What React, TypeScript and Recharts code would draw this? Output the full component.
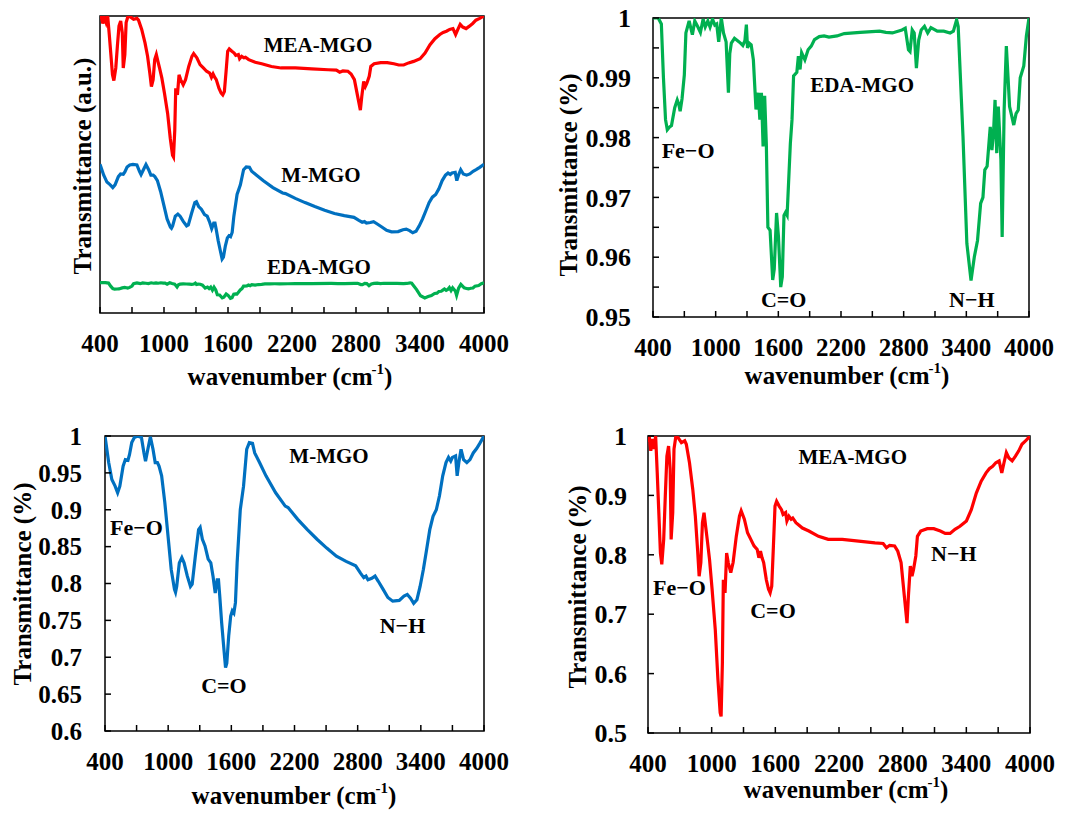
import { LineChart, Line, XAxis, YAxis, ReferenceArea, ReferenceDot } from "recharts";

const FONT = "'Times New Roman', 'Liberation Serif', serif";
const RED = "#FF0000";
const BLUE = "#0070C0";
const GREEN = "#00B050";

// [wavenumber (cm-1), transmittance]
const edaMgo: [number, number][] = [
  [400, 1.0], [450, 1.0], [480, 0.999], [500, 0.99], [520, 0.983], [537, 0.9813], [560, 0.9818], [577, 0.982],
  [608, 0.985], [632, 0.9863], [648, 0.9855], [660, 0.9844], [678, 0.9865], [700, 0.9905], [715, 0.9975],
  [746, 0.9995], [777, 0.9972], [800, 0.9995], [830, 0.9985], [854, 0.9976], [880, 0.9998], [900, 0.9985],
  [925, 0.9995], [946, 0.9985], [970, 0.9998], [992, 0.9988], [1010, 0.999], [1029, 0.996], [1045, 0.9985],
  [1054, 1.0], [1075, 0.9975], [1100, 0.996], [1122, 0.9875], [1135, 0.994], [1150, 0.9958], [1180, 0.9966],
  [1210, 0.9962], [1238, 0.9958], [1260, 0.9954], [1280, 0.9962], [1294, 0.9989], [1305, 0.995], [1320, 0.9958],
  [1340, 0.9955], [1361, 0.993], [1386, 0.9847], [1408, 0.9875], [1423, 0.983], [1438, 0.9875], [1454, 0.9785],
  [1469, 0.987], [1485, 0.979], [1500, 0.965], [1521, 0.9645], [1546, 0.9562], [1561, 0.958], [1583, 0.9674],
  [1601, 0.9635], [1623, 0.955], [1638, 0.9567], [1654, 0.967], [1669, 0.9675], [1684, 0.967], [1715, 0.979],
  [1731, 0.983], [1746, 0.9903], [1777, 0.9909], [1792, 0.9936], [1808, 0.9914], [1823, 0.9942], [1854, 0.993],
  [1885, 0.9947], [1915, 0.9953], [1946, 0.9964], [1992, 0.9969], [2038, 0.997], [2085, 0.9968], [2162, 0.997],
  [2231, 0.9974], [2384, 0.9976], [2569, 0.9978], [2630, 0.9976], [2692, 0.9975], [2784, 0.998], [2815, 0.9983],
  [2846, 0.9947], [2861, 0.9944], [2882, 0.998], [2901, 0.9975], [2922, 0.9916], [2944, 0.9963], [2968, 0.998],
  [2999, 0.9986], [3030, 0.9975], [3061, 0.9984], [3122, 0.9978], [3184, 0.9978], [3245, 0.9975], [3276, 0.9978],
  [3307, 0.9997], [3322, 0.9986], [3368, 0.9802], [3405, 0.9623], [3445, 0.9561], [3476, 0.96], [3507, 0.9628],
  [3537, 0.969], [3559, 0.97], [3577, 0.9746], [3599, 0.9752], [3614, 0.9785], [3629, 0.9818], [3645, 0.9779],
  [3660, 0.9807], [3675, 0.9863], [3691, 0.9774], [3706, 0.9852], [3731, 0.9763], [3743, 0.9634], [3762, 0.9846],
  [3783, 0.9953], [3799, 0.9902], [3814, 0.9852], [3836, 0.9835], [3854, 0.9821], [3876, 0.984], [3897, 0.9846],
  [3916, 0.99], [3950, 0.992], [3975, 0.997], [4000, 1.0],
];

const mMgo: [number, number][] = [
  [400, 1.0], [435, 0.964], [465, 0.941], [496, 0.932], [520, 0.923], [541, 0.932], [572, 0.959], [593, 0.968],
  [618, 0.967], [633, 0.975], [654, 0.991], [679, 0.998], [709, 1.0], [746, 0.998], [770, 0.977], [785, 0.966],
  [807, 0.982], [831, 0.999], [856, 0.982], [877, 0.964], [898, 0.964], [914, 0.959], [938, 0.946], [968, 0.91],
  [999, 0.864], [1029, 0.819], [1060, 0.792], [1070, 0.788], [1081, 0.796], [1106, 0.828], [1130, 0.835],
  [1151, 0.828], [1182, 0.81], [1212, 0.796], [1228, 0.799], [1258, 0.837], [1289, 0.873], [1304, 0.876],
  [1325, 0.86], [1350, 0.851], [1380, 0.833], [1405, 0.828], [1426, 0.81], [1447, 0.787], [1466, 0.805],
  [1478, 0.805], [1490, 0.783], [1508, 0.747], [1527, 0.715], [1545, 0.686], [1557, 0.692], [1575, 0.729],
  [1594, 0.756], [1609, 0.763], [1624, 0.76], [1639, 0.774], [1655, 0.828], [1685, 0.9], [1716, 0.932],
  [1746, 0.982], [1771, 0.991], [1801, 0.99], [1822, 0.977], [1868, 0.964], [1929, 0.946], [2021, 0.923],
  [2112, 0.905], [2139, 0.903], [2231, 0.887], [2322, 0.873], [2414, 0.86], [2506, 0.848], [2598, 0.837],
  [2690, 0.83], [2781, 0.824], [2827, 0.814], [2858, 0.808], [2879, 0.81], [2898, 0.805], [2934, 0.807],
  [2965, 0.81], [2996, 0.803], [3042, 0.792], [3087, 0.781], [3133, 0.776], [3195, 0.777], [3240, 0.783],
  [3271, 0.785], [3302, 0.78], [3332, 0.773], [3363, 0.778], [3393, 0.796], [3424, 0.819], [3455, 0.846],
  [3485, 0.873], [3516, 0.891], [3547, 0.9], [3577, 0.919], [3608, 0.946], [3639, 0.964], [3663, 0.971],
  [3684, 0.966], [3700, 0.971], [3730, 0.973], [3745, 0.946], [3761, 0.964], [3782, 0.982], [3806, 0.968],
  [3837, 0.964], [3867, 0.968], [3898, 0.977], [3930, 0.983], [3960, 0.99], [4000, 1.0],
];

const meaMgo: [number, number][] = [
  [400, 0.99], [411, 1.0], [426, 0.975], [441, 0.995], [457, 0.978], [472, 1.0], [487, 0.938], [502, 0.871],
  [517, 0.803], [530, 0.784], [548, 0.826], [563, 0.899], [578, 0.966], [594, 0.983], [609, 0.944], [618, 0.826],
  [633, 0.871], [645, 0.978], [663, 1.0], [685, 0.997], [715, 0.989], [746, 0.992], [761, 0.986], [791, 0.955],
  [822, 0.91], [846, 0.865], [867, 0.809], [882, 0.764], [898, 0.787], [913, 0.854], [928, 0.871], [943, 0.848],
  [958, 0.826], [980, 0.792], [1004, 0.742], [1034, 0.674], [1059, 0.59], [1080, 0.534], [1089, 0.528],
  [1101, 0.618], [1110, 0.758], [1126, 0.736], [1141, 0.803], [1156, 0.787], [1180, 0.77], [1202, 0.787],
  [1232, 0.831], [1262, 0.865], [1278, 0.874], [1308, 0.86], [1338, 0.837], [1369, 0.826], [1399, 0.815],
  [1429, 0.809], [1445, 0.795], [1460, 0.806], [1475, 0.795], [1490, 0.787], [1515, 0.758], [1536, 0.742],
  [1551, 0.736], [1566, 0.747], [1582, 0.815], [1597, 0.882], [1612, 0.89], [1636, 0.882], [1658, 0.876],
  [1673, 0.868], [1697, 0.871], [1709, 0.857], [1728, 0.865], [1749, 0.86], [1764, 0.862], [1794, 0.854],
  [1855, 0.845], [1916, 0.84], [2007, 0.831], [2098, 0.826], [2231, 0.826], [2385, 0.823], [2539, 0.82],
  [2616, 0.819], [2647, 0.812], [2677, 0.816], [2724, 0.815], [2754, 0.806], [2785, 0.787], [2816, 0.73],
  [2841, 0.685], [2854, 0.73], [2872, 0.781], [2888, 0.764], [2902, 0.775], [2924, 0.798], [2939, 0.831],
  [2970, 0.84], [3032, 0.844], [3093, 0.844], [3155, 0.84], [3201, 0.836], [3247, 0.836], [3293, 0.843],
  [3340, 0.848], [3401, 0.857], [3447, 0.876], [3494, 0.904], [3540, 0.924], [3586, 0.938], [3617, 0.945],
  [3648, 0.949], [3678, 0.955], [3709, 0.958], [3734, 0.938], [3755, 0.955], [3777, 0.972], [3801, 0.963],
  [3832, 0.958], [3863, 0.966], [3894, 0.975], [3924, 0.986], [3960, 0.992], [4000, 1.0],
];

const xTicks = [400, 700, 1000, 1300, 1600, 1900, 2200, 2500, 2800, 3100, 3400, 3700, 4000];
const xTickLabels = [400, 1000, 1600, 2200, 2800, 3400, 4000];

const edaYTicks = [0.95, 0.955, 0.96, 0.965, 0.97, 0.975, 0.98, 0.985, 0.99, 0.995, 1];
const edaYLabels = [0.95, 0.96, 0.97, 0.98, 0.99, 1];
const mYTicks = [0.6, 0.65, 0.7, 0.75, 0.8, 0.85, 0.9, 0.95, 1];
const meaYTicks = [0.5, 0.6, 0.7, 0.8, 0.9, 1];

type Note = { text: string; w: number; v: number; anchor: "start" | "middle" };

const overviewNotes: Note[] = [
  { text: "MEA-MGO", w: 2444, v: 0.8795, anchor: "middle" },
  { text: "M-MGO", w: 2472, v: 0.4443, anchor: "middle" },
  { text: "EDA-MGO", w: 2453, v: 0.1363, anchor: "middle" },
];
const edaNotes: Note[] = [
  { text: "EDA-MGO", w: 2402, v: 0.98763, anchor: "middle" },
  { text: "Fe\u2212O", w: 483, v: 0.97659, anchor: "start" },
  { text: "C=O", w: 1651, v: 0.95167, anchor: "middle" },
  { text: "N\u2212H", w: 3453, v: 0.95167, anchor: "middle" },
];
const mNotes: Note[] = [
  { text: "M-MGO", w: 2528, v: 0.9634, anchor: "middle" },
  { text: "Fe\u2212O", w: 447, v: 0.8658, anchor: "start" },
  { text: "C=O", w: 1530, v: 0.6515, anchor: "middle" },
  { text: "N\u2212H", w: 3226, v: 0.7333, anchor: "middle" },
];
const meaNotes: Note[] = [
  { text: "MEA-MGO", w: 2330, v: 0.9529, anchor: "middle" },
  { text: "Fe\u2212O", w: 447, v: 0.7323, anchor: "start" },
  { text: "C=O", w: 1578, v: 0.6941, anchor: "middle" },
  { text: "N\u2212H", w: 3282, v: 0.79, anchor: "middle" },
];

const toPoints = (rows: [number, number][]) => rows.map(([w, v]) => ({ w, v }));

const XTick = (props: any) => {
  const { x, y, payload } = props;
  const value = payload.value;
  return (
    <g>
      <line x1={x} y1={y} x2={x} y2={y - 6} stroke="#000" strokeWidth={1.5} />
      {xTickLabels.includes(value) && (
        <text x={x} y={y + 39} textAnchor="middle" fontFamily={FONT} fontWeight="bold" fontSize={25} fill="#000">
          {value}
        </text>
      )}
    </g>
  );
};

const makeYTick = (labels: number[], gap: number, size: number) => (props: any) => {
  const { x, y, payload } = props;
  const value = payload.value as number;
  const show = labels.some((l) => Math.abs(l - value) < 1e-9);
  return (
    <g>
      <line x1={x} y1={y} x2={x + 6} y2={y} stroke="#000" strokeWidth={1.5} />
      {show && (
        <text x={x - gap} y={y} dy="0.35em" textAnchor="end" fontFamily={FONT} fontWeight="bold" fontSize={size} fill="#000">
          {String(Number(value.toFixed(3)))}
        </text>
      )}
    </g>
  );
};

const noteShape = (note: Note, size: number) => (p: any) => (
  <text x={p.cx} y={p.cy} textAnchor={note.anchor} fontFamily={FONT} fontWeight="bold" fontSize={size} fill="#000">
    {note.text}
  </text>
);

function XTitle({ x, y }: { x: number; y: number }) {
  return (
    <text x={x} y={y} textAnchor="middle" fontFamily={FONT} fontWeight="bold" fontSize={25} fill="#000">
      wavenumber (cm
      <tspan dx={-1} dy={-11} fontSize={15}>-1</tspan>
      <tspan dy={11} fontSize={25}>)</tspan>
    </text>
  );
}

function YTitle({ x, y, text }: { x: number; y: number; text: string }) {
  return (
    <text
      x={x}
      y={y}
      transform={`rotate(-90, ${x}, ${y})`}
      textAnchor="middle"
      dy="0.35em"
      fontFamily={FONT}
      fontWeight="bold"
      fontSize={25}
      fill="#000"
    >
      {text}
    </text>
  );
}

const frame = { fill: "none", stroke: "#000", strokeWidth: 1.5, fillOpacity: 0 };

function OverviewPanel() {
  return (
    <LineChart width={540} height={405} margin={{ top: 16, right: 56, bottom: 62, left: 100 }}>
      <XAxis type="number" dataKey="w" domain={[400, 4000]} ticks={xTicks} interval={0} height={30}
        axisLine={false} tickLine={false} tickSize={0} tickMargin={0} tick={XTick} allowDataOverflow />
      <YAxis yAxisId="mea" hide domain={[0.0057, 1]} allowDataOverflow />
      <YAxis yAxisId="m" hide domain={[0.507, 1.4917]} allowDataOverflow />
      <YAxis yAxisId="eda" hide domain={[0.9127, 1.7686]} allowDataOverflow />
      <ReferenceArea yAxisId="mea" x1={400} x2={4000} y1={0.0057} y2={1} {...frame} />
      <Line yAxisId="mea" data={toPoints(meaMgo)} dataKey="v" type="linear" dot={false} stroke={RED} strokeWidth={3.2} isAnimationActive={false} />
      <Line yAxisId="m" data={toPoints(mMgo)} dataKey="v" type="linear" dot={false} stroke={BLUE} strokeWidth={3.2} isAnimationActive={false} />
      <Line yAxisId="eda" data={toPoints(edaMgo)} dataKey="v" type="linear" dot={false} stroke={GREEN} strokeWidth={3.2} isAnimationActive={false} />
      {overviewNotes.map((n) => (
        <ReferenceDot key={n.text} yAxisId="mea" x={n.w} y={n.v} r={0} ifOverflow="visible" shape={noteShape(n, 21)} />
      ))}
      <XTitle x={290} y={385} />
      <YTitle x={82} y={166} text="Transmittance (a.u.)" />
    </LineChart>
  );
}

type PanelProps = {
  width: number;
  height: number;
  margin: { top: number; right: number; bottom: number; left: number };
  domain: [number, number];
  yTicks: number[];
  yLabels: number[];
  gap: number;
  yFont: number;
  rows: [number, number][];
  color: string;
  notes: Note[];
  xTitle: { x: number; y: number };
  yTitle: { x: number; y: number };
};

function SpectrumPanel(p: PanelProps) {
  return (
    <LineChart width={p.width} height={p.height} margin={p.margin}>
      <XAxis type="number" dataKey="w" domain={[400, 4000]} ticks={xTicks} interval={0} height={30}
        axisLine={false} tickLine={false} tickSize={0} tickMargin={0} tick={XTick} allowDataOverflow />
      <YAxis type="number" domain={p.domain} ticks={p.yTicks} interval={0} width={40}
        axisLine={false} tickLine={false} tickSize={0} tickMargin={0} tick={makeYTick(p.yLabels, p.gap, p.yFont)} allowDataOverflow />
      <ReferenceArea x1={400} x2={4000} y1={p.domain[0]} y2={p.domain[1]} {...frame} />
      <Line data={toPoints(p.rows)} dataKey="v" type="linear" dot={false} stroke={p.color} strokeWidth={3.2} isAnimationActive={false} />
      {p.notes.map((n) => (
        <ReferenceDot key={n.text} x={n.w} y={n.v} r={0} ifOverflow="visible" shape={noteShape(n, n.text.includes("MGO") ? 21 : 22)} />
      ))}
      <XTitle x={p.xTitle.x} y={p.xTitle.y} />
      <YTitle x={p.yTitle.x} y={p.yTitle.y} text="Transmittance (%)" />
    </LineChart>
  );
}

export default function App() {
  return (
    <div style={{ position: "absolute", left: 0, top: 0, width: 1077, height: 813, background: "#fff" }}>
      <div style={{ position: "absolute", left: 0, top: 0 }}>
        <OverviewPanel />
      </div>
      <div style={{ position: "absolute", left: 540, top: 0 }}>
        <SpectrumPanel
          width={537} height={405} margin={{ top: 18, right: 48, bottom: 58, left: 73 }}
          domain={[0.95, 1]} yTicks={edaYTicks} yLabels={edaYLabels} gap={22} yFont={26}
          rows={edaMgo} color={GREEN} notes={edaNotes}
          xTitle={{ x: 307, y: 384 }} yTitle={{ x: 28, y: 175 }}
        />
      </div>
      <div style={{ position: "absolute", left: 0, top: 410 }}>
        <SpectrumPanel
          width={540} height={403} margin={{ top: 26, right: 56, bottom: 52, left: 65 }}
          domain={[0.6, 1]} yTicks={mYTicks} yLabels={mYTicks} gap={23} yFont={25}
          rows={mMgo} color={BLUE} notes={mNotes}
          xTitle={{ x: 294, y: 394 }} yTitle={{ x: 22, y: 174 }}
        />
      </div>
      <div style={{ position: "absolute", left: 540, top: 410 }}>
        <SpectrumPanel
          width={537} height={403} margin={{ top: 26, right: 47, bottom: 50, left: 68 }}
          domain={[0.5, 1]} yTicks={meaYTicks} yLabels={meaYTicks} gap={21} yFont={26}
          rows={meaMgo} color={RED} notes={meaNotes}
          xTitle={{ x: 306, y: 388 }} yTitle={{ x: 37, y: 177 }}
        />
      </div>
    </div>
  );
}
